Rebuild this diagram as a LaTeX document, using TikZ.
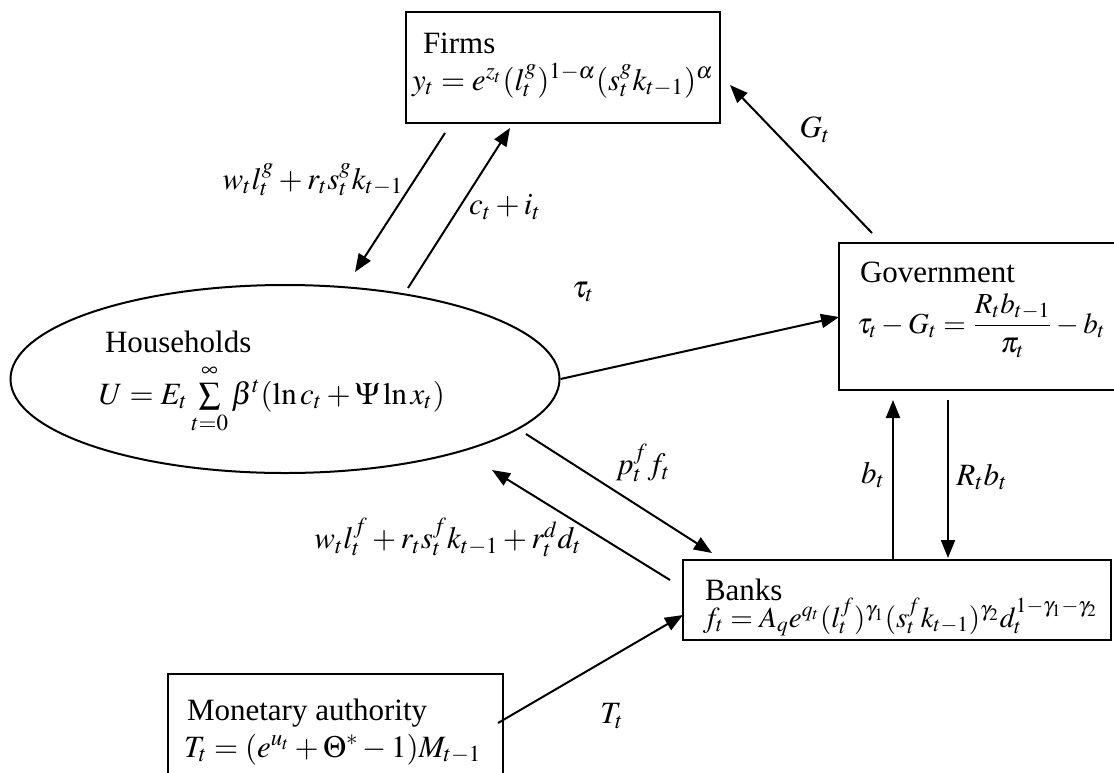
\documentclass[tikz,border=0pt]{standalone}
\usepackage{mathptmx}
\usepackage[no-math]{fontspec}
\setmainfont{Liberation Serif}
\usetikzlibrary{arrows.meta,shapes.geometric}
\tikzset{
  boxst/.style={draw, line width=1pt, rectangle, inner sep=0pt},
  lbl/.style={inner sep=0pt, outer sep=0pt, anchor=base west},
  flow/.style={line width=1pt, -{Triangle[length=9pt,width=7pt]}},
}
\begin{document}
\begin{tikzpicture}[x=0.5pt,y=-0.5pt,font=\fontsize{15.5}{18}\selectfont]
\useasboundingbox (0,0) rectangle (1114,772);
\clip (0,0) rectangle (1114,772);
% boxes
\node[boxst, minimum width=157pt, minimum height=55.5pt] (firms) at (563,67.5) {};
\node[boxst, minimum width=145.5pt, minimum height=73.5pt] (gov) at (984.5,316.5) {};
\node[boxst, minimum width=214pt, minimum height=40pt] (banks) at (897,600) {};
\node[boxst, minimum width=167.5pt, minimum height=58pt] (mon) at (335.5,732) {};
\node[draw, line width=1pt, ellipse, inner sep=0pt, minimum width=274.5pt, minimum height=94pt] (hh) at (285,379) {};
% texts
\node[lbl] (firmsL) at (423,53) {Firms};
\node[lbl] (firmsE) at (412,90) {$y_t = e^{z_t}(l_t^g)^{1-\alpha}(s_t^g k_{t-1})^{\alpha}$};
\node[lbl] (govL) at (860,282) {Government};
\node[lbl, font=\fontsize{14.5}{17}\selectfont] (govE) at (857,333) {$\tau_t - G_t = {\displaystyle\frac{R_t b_{t-1}}{\pi_t}} - b_t$};
\node[lbl] (banksL) at (705,600) {Banks};
\node[lbl, font=\fontsize{14.5}{17}\selectfont] (banksE) at (703,627) {$f_t = A_q e^{q_t}(l_t^f)^{\gamma_1}(s_t^f k_{t-1})^{\gamma_2} d_t^{1-\gamma_1-\gamma_2}$};
\node[lbl] (monL) at (187,720) {Monetary authority};
\node[lbl] (monE) at (184,757) {$T_t = (e^{u_t} + \Theta^{*} - 1)M_{t-1}$};
\node[lbl] (hhL) at (105,352) {Households};
\node[lbl] (hhE) at (99,404) {$U = E_t \sum\limits_{t=0}^{\infty} \beta^t(\ln c_t + \Psi \ln x_t)$};
% connector end points
\coordinate (a1s) at (445,133);
\coordinate (a1e) at (355,272);
\coordinate (a2s) at (408,288);
\coordinate (a2e) at (510,128);
\coordinate (a3s) at (872,233);
\coordinate (a3e) at (730,85);
\coordinate (a4e) at (839,317);
\coordinate (a5s) at (893,560);
\coordinate (a5e) at (893,400);
\coordinate (a6s) at (948,400);
\coordinate (a6e) at (948,558);
\coordinate (a7s) at (526,434);
\coordinate (a7e) at (712,553);
\coordinate (a8s) at (670,580);
\coordinate (a8e) at (492,470);
\coordinate (a9s) at (498,723);
\coordinate (a9e) at (683,615);
% connectors
\draw[flow] (a1s) -- (a1e);
\draw[flow] (a2s) -- (a2e);
\draw[flow] (a3s) -- (a3e);
\draw[flow] (hh.east) -- (a4e);
\draw[flow] (a5s) -- (a5e);
\draw[flow] (a6s) -- (a6e);
\draw[flow] (a7s) -- (a7e);
\draw[flow] (a8s) -- (a8e);
\draw[flow] (a9s) -- (a9e);
% connector labels
\node (l1) at (313,180) {$w_t l_t^g + r_t s_t^g k_{t-1}$};
\node (l2) at (505,207) {$c_t + i_t$};
\node (l3) at (815,130) {$G_t$};
\node (l4) at (583,292) {$\tau_t$};
\node (l5) at (643,463) {$p_t^f f_t$};
\node (l6) at (448,537) {$w_t l_t^f + r_t s_t^f k_{t-1} + r_t^d d_t$};
\node (l7) at (873,475) {$b_t$};
\node (l8) at (982,477) {$R_t b_t$};
\node (l9) at (612,716) {$T_t$};
\end{tikzpicture}
\end{document}
